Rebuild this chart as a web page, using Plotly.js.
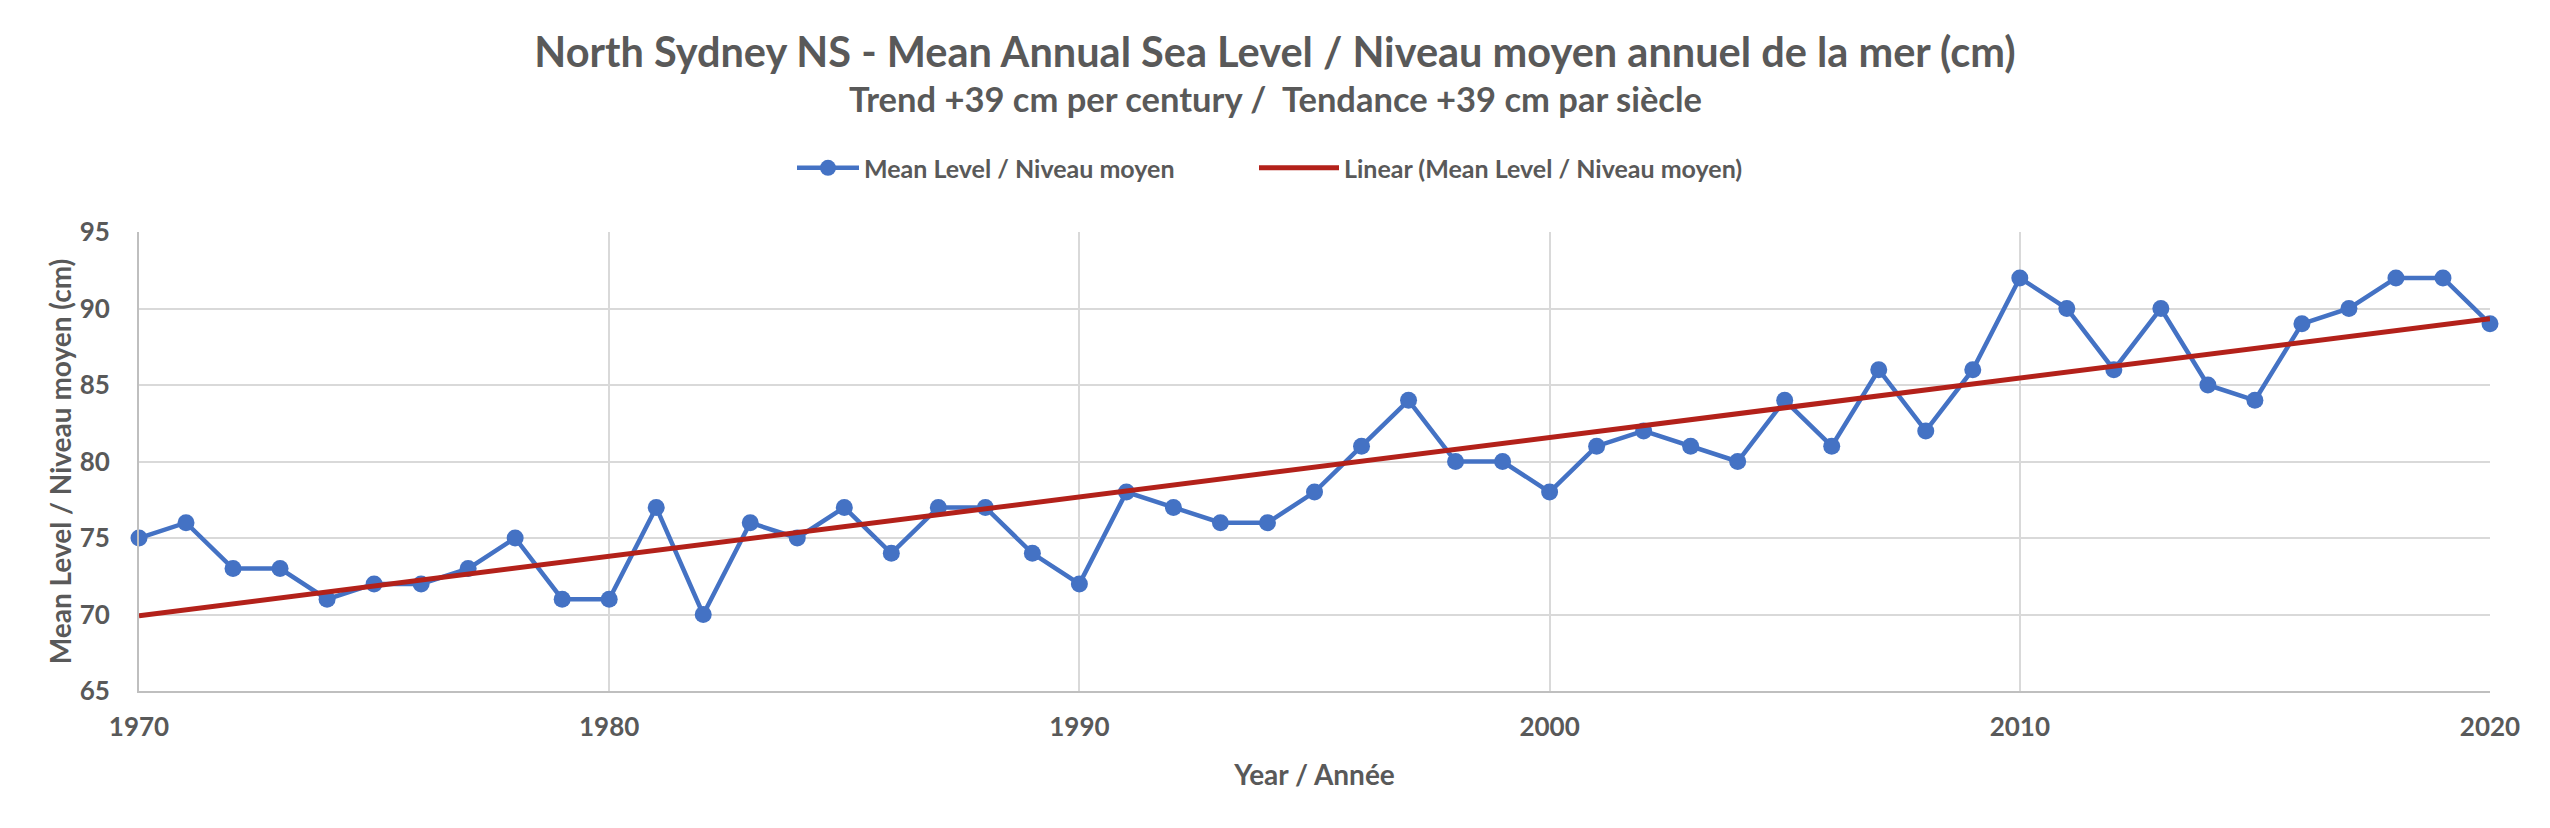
<!DOCTYPE html>
<html>
<head>
<meta charset="utf-8">
<script src="https://cdn.plot.ly/plotly-3.0.1.min.js"></script>
<style>
html,body{margin:0;padding:0;background:#fff;}
#chart{width:2550px;height:828px;}
</style>
</head>
<body>
<div id="chart"></div>
<script>
// Data
var years = [1970,1971,1972,1973,1974,1975,1976,1977,1978,1979,
             1980,1981,1982,1983,1984,1985,1986,1987,1988,1989,
             1990,1991,1992,1993,1994,1995,1996,1997,1998,1999,
             2000,2001,2002,2003,2004,2005,2006,2007,2008,2009,
             2010,2011,2012,2013,2014,2015,2016,2017,2018,2019,2020];
var meanLevel = [75,76,73,73,71,72,72,73,75,71,
                 71,77,70,76,75,77,74,77,77,74,
                 72,78,77,76,76,78,81,84,80,80,
                 78,81,82,81,80,84,81,86,82,86,
                 92,90,86,90,85,84,89,90,92,92,89];
var xTicks = [1970,1980,1990,2000,2010,2020];
var yTicks = [65,70,75,80,85,90,95];

var seriesName = 'Mean Level / Niveau moyen';
var trendName = 'Linear (Mean Level / Niveau moyen)';
var titleText = 'North Sydney NS - Mean Annual Sea Level / Niveau moyen annuel de la mer (cm)';
var subtitleText = 'Trend +39 cm per century /&nbsp; Tendance +39 cm par siècle';

// Least-squares trendline (as the spreadsheet's linear trendline)
var n = years.length, sx=0, sy=0, sxx=0, sxy=0;
for (var i=0;i<n;i++){sx+=years[i];sy+=meanLevel[i];sxx+=years[i]*years[i];sxy+=years[i]*meanLevel[i];}
var slope = (n*sxy - sx*sy)/(n*sxx - sx*sx);
var intercept = (sy - slope*sx)/n;
var trendX = [years[0], years[n-1]];
var trendY = trendX.map(function(x){return intercept + slope*x;});

var FONT = 'Lato, "Open Sans", sans-serif';
var GREY = '#595959';

var traces = [
  {x: years, y: meanLevel, type:'scatter', mode:'lines+markers', name: seriesName, legend:'legend',
   line:{color:'#4472C4', width:4.5}, marker:{color:'#4472C4', size:17}, cliponaxis:false},
  {x: trendX, y: trendY, type:'scatter', mode:'lines', name: trendName, legend:'legend2',
   line:{color:'#B3211A', width:5}, cliponaxis:false}
];

var plotL = 139, plotR = 2490, plotW = plotR - plotL, plotH = 828 - 232 - 136.5;
var pageCenterX = (1275 - plotL) / plotW;
var legendY = 1 + (232 - 168) / plotH;
var legendFont = {family:FONT, size:25, color:GREY, weight:'bold'};

var layout = {
  width:2550, height:828,
  paper_bgcolor:'#fff', plot_bgcolor:'#fff',
  margin:{l:139, r:60, t:232, b:136.5, pad:0},
  font:{family:FONT, color:GREY, size:26, weight:'bold'},
  title:{text:titleText, x:0.5, xanchor:'center', xref:'container', y:1-52/828, yanchor:'middle', yref:'container',
         font:{family:FONT, size:41.5, color:GREY, weight:'bold'}},
  annotations:[{text:subtitleText, xref:'paper', yref:'paper', x:pageCenterX, y:1+(232-98)/plotH, xanchor:'center', yanchor:'middle',
         showarrow:false, font:{family:FONT, size:34.5, color:GREY, weight:'bold'}}],
  showlegend:true,
  legend:{orientation:'h', x:(800-139-8)/plotW, xanchor:'left', y:legendY, yanchor:'middle',
          font:legendFont, itemwidth:62, bgcolor:'rgba(0,0,0,0)'},
  legend2:{orientation:'h', x:(1262-139-8)/plotW, xanchor:'left', y:legendY, yanchor:'middle',
          font:legendFont, itemwidth:80, bgcolor:'rgba(0,0,0,0)'},
  xaxis:{range:[1970,2020], tickmode:'array', tickvals:xTicks, ticktext:xTicks.map(String),
         showgrid:true, gridcolor:'#D9D9D9', gridwidth:2,
         showline:true, linecolor:'#BFBFBF', linewidth:2, mirror:false, zeroline:false,
         ticks:'', ticklabelstandoff:12,
         tickfont:{family:FONT, size:26, color:GREY, weight:'bold'},
         title:{text:'Year / Année', standoff:24, font:{family:FONT, size:28, color:GREY, weight:'bold'}}},
  yaxis:{range:[65,95], tickmode:'array', tickvals:yTicks, ticktext:yTicks.map(String),
         showgrid:true, gridcolor:'#D9D9D9', gridwidth:2,
         showline:true, linecolor:'#BFBFBF', linewidth:2, zeroline:false,
         ticks:'', ticklabelstandoff:22,
         tickfont:{family:FONT, size:26, color:GREY, weight:'bold'},
         title:{text:'Mean Level / Niveau moyen (cm)', standoff:0, font:{family:FONT, size:28, color:GREY, weight:'bold'}}}
};

Plotly.newPlot('chart', traces, layout, {displayModeBar:false, staticPlot:true});
</script>
</body>
</html>
